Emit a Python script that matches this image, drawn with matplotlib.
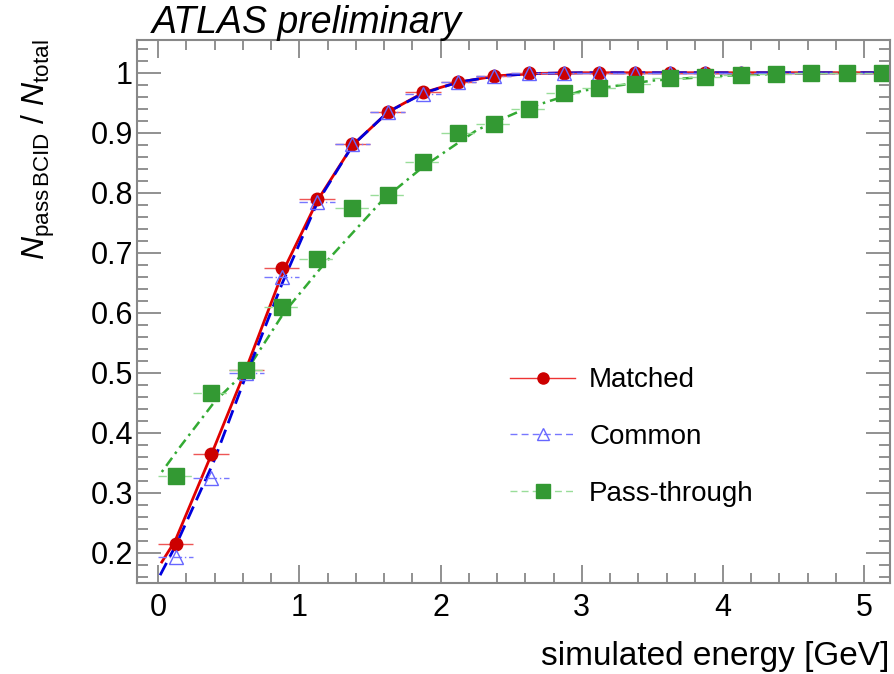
import numpy as np
import matplotlib
matplotlib.use("Agg")
import matplotlib.pyplot as plt
from matplotlib.ticker import MultipleLocator
from matplotlib.lines import Line2D

plt.rcParams['font.family'] = ['Liberation Sans', 'DejaVu Sans']
plt.rcParams['mathtext.fontset'] = 'custom'
plt.rcParams['mathtext.rm'] = 'Liberation Sans'
plt.rcParams['mathtext.it'] = 'Liberation Sans:italic'

# bin centres (GeV), half bin width 0.125
energy = [0.125, 0.375, 0.625, 0.875, 1.125, 1.375, 1.625, 1.875, 2.125, 2.375,
          2.625, 2.875, 3.125, 3.375, 3.625, 3.875, 4.125, 4.375, 4.625, 4.875, 5.125]
matched = [0.215, 0.365, 0.505, 0.675, 0.790, 0.882, 0.935, 0.968, 0.985, 0.995,
           0.999, 1.0, 1.0, 1.0, 1.0, 1.0, 1.0, 1.0, 1.0, 1.0, 1.0]
common = [0.193, 0.325, 0.500, 0.660, 0.785, 0.882, 0.935, 0.965, 0.985, 0.995,
          0.999, 1.0, 1.0, 1.0, 1.0, 1.0, 1.0, 1.0, 1.0, 1.0, 1.0]
passthrough = [0.328, 0.466, 0.505, 0.610, 0.690, 0.775, 0.797, 0.852, 0.900, 0.914,
               0.939, 0.966, 0.974, 0.982, 0.992, 0.993, 0.996, 0.998, 0.999, 1.0, 1.0]

# fitted curves
fit_m_x = [0.026, 0.12, 0.37, 0.62, 0.89, 1.13, 1.38, 1.63, 1.88, 2.12, 2.4, 2.7, 3.0, 5.18]
fit_m_y = [0.185, 0.220, 0.360, 0.505, 0.672, 0.788, 0.880, 0.935, 0.967, 0.984, 0.995, 0.999, 1.0, 1.0]
fit_c_x = [0.014, 0.13, 0.39, 0.62, 0.88, 1.13, 1.38, 1.63, 1.88, 2.12, 2.4, 2.7, 3.0, 5.18]
fit_c_y = [0.163, 0.215, 0.350, 0.494, 0.650, 0.785, 0.880, 0.935, 0.966, 0.984, 0.995, 0.999, 1.0, 1.0]
fit_p_x = [0.026, 0.156, 0.40, 0.63, 0.89, 1.17, 1.59, 1.88, 2.26, 2.6, 3.0, 3.5, 4.0, 4.5, 5.18]
fit_p_y = [0.335, 0.377, 0.452, 0.505, 0.600, 0.680, 0.788, 0.844, 0.905, 0.940, 0.970, 0.987, 0.995, 0.999, 1.0]

labels = ['Matched', 'Common', 'Pass-through']

fig = plt.figure(figsize=(8.95, 6.74), dpi=100)
ax = fig.add_axes([0.153, 0.135, 0.841, 0.806])

ax.plot(fit_p_x, fit_p_y, color='#33aa33', lw=1.8, ls=(0, (1, 2, 4, 2)))
ax.plot(fit_m_x, fit_m_y, color='#e00000', lw=2)
ax.plot(fit_c_x, fit_c_y, color='#0000dd', lw=2, ls=(0, (5, 2.5)))

ax.errorbar(energy, matched, xerr=0.125, fmt='o', color='#cc0000', ms=9,
            ecolor='#ee5555', elinewidth=1)
eb = ax.errorbar(energy, common, xerr=0.125, fmt='^', color='#6666ff', ms=10, mfc='none',
                 mew=1, ecolor='#7777ff', elinewidth=1)
eb[2][0].set_linestyle((0, (6, 2, 1, 2)))
eb = ax.errorbar(energy, passthrough, xerr=0.125, fmt='s', color='#339933', ms=11,
                 ecolor='#99dd99', elinewidth=1)
eb[2][0].set_linestyle((0, (6, 3)))

ax.set_xlim(-0.15, 5.18)
ax.set_ylim(0.15, 1.055)
ax.xaxis.set_major_locator(MultipleLocator(1))
ax.xaxis.set_minor_locator(MultipleLocator(0.2))
ax.yaxis.set_minor_locator(MultipleLocator(0.02))
ax.set_yticks([0.2, 0.3, 0.4, 0.5, 0.6, 0.7, 0.8, 0.9, 1.0])
ax.set_yticklabels(['0.2', '0.3', '0.4', '0.5', '0.6', '0.7', '0.8', '0.9', '1'])
ax.tick_params(which='both', direction='in', top=True, right=True, color='#888888',
               labelsize=22, width=1.3)
ax.tick_params(axis='y', which='major', length=17, pad=3)
ax.tick_params(axis='y', which='minor', length=8)
ax.tick_params(axis='x', which='major', length=13, pad=7)
ax.tick_params(axis='x', which='minor', length=7)
for s in ax.spines.values():
    s.set_color('#888888')
    s.set_linewidth(1.5)

ax.set_xlabel('simulated energy [GeV]', fontsize=24, loc='right', labelpad=13)
ax.set_ylabel(r'$N_{\rm pass\,BCID}$ / $N_{\rm total}$', fontsize=23, loc='top', labelpad=24)
fig.text(0.17, 0.966, 'ATLAS preliminary', fontsize=27, style='italic', va='center')

handles = [
    Line2D([], [], color='#ee3333', lw=1, marker='o', ms=8, mfc='#cc0000', mec='#cc0000'),
    Line2D([], [], color='#7777ff', lw=1, ls=(0, (5, 3)), marker='^', ms=9, mfc='none', mec='#6666ff'),
    Line2D([], [], color='#99dd99', lw=1, ls=(0, (5, 3)), marker='s', ms=10, mfc='#339933', mec='#339933'),
]
fig.legend(handles, labels, loc='center left', bbox_to_anchor=(510 / 895, 1 - 437 / 674),
           frameon=False, fontsize=20, labelspacing=1.1, handlelength=2.35,
           handletextpad=0.5, borderpad=0, borderaxespad=0)

fig.savefig('out.png', dpi=100)
